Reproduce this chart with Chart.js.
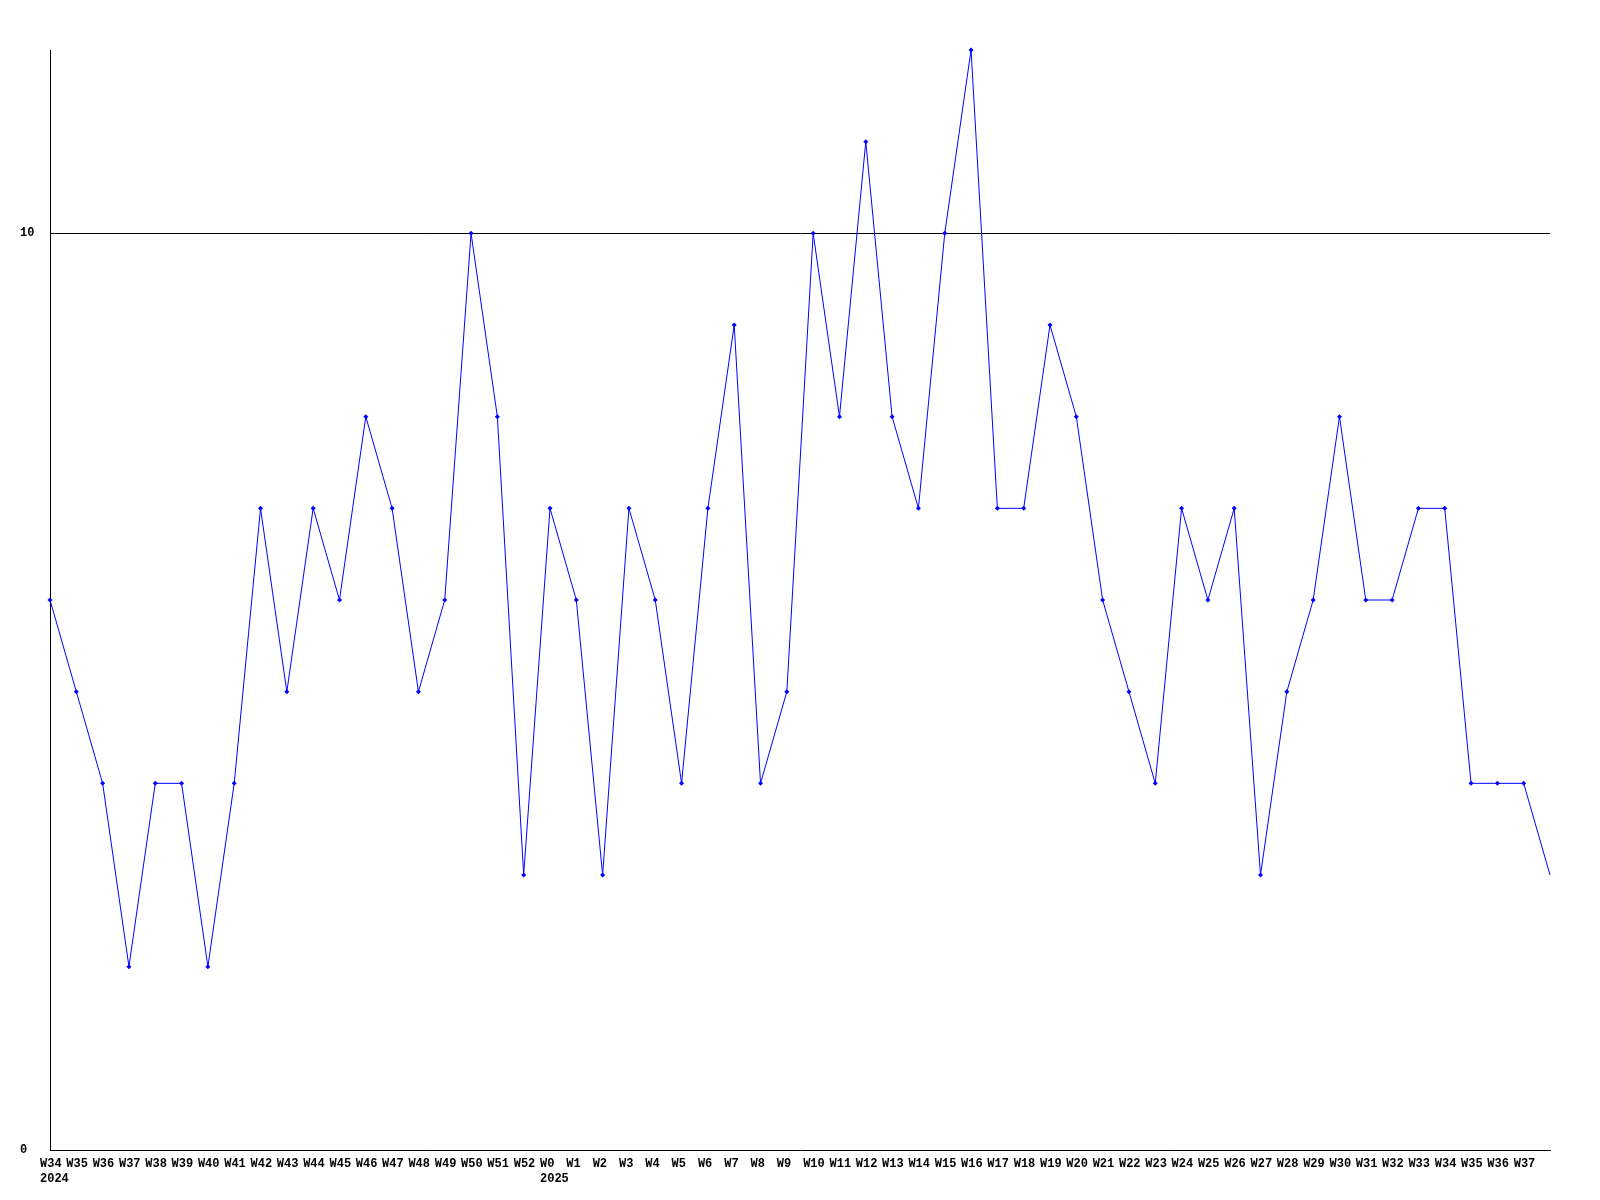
<!DOCTYPE html>
<html>
<head>
<meta charset="utf-8">
<script src="https://cdn.jsdelivr.net/npm/chart.js@4/dist/chart.umd.min.js"></script>
<style>
  html, body { margin: 0; padding: 0; background: #ffffff; }
  #wrap { width: 1600px; height: 1200px; position: relative; }
</style>
</head>
<body>
<div id="wrap"><canvas id="c" width="1600" height="1200"></canvas></div>
<script>
const weekLabels = ['W34','W35','W36','W37','W38','W39','W40','W41','W42','W43','W44','W45','W46','W47','W48','W49','W50','W51','W52',
  'W0','W1','W2','W3','W4','W5','W6','W7','W8','W9','W10','W11','W12','W13','W14','W15','W16','W17','W18','W19','W20',
  'W21','W22','W23','W24','W25','W26','W27','W28','W29','W30','W31','W32','W33','W34','W35','W36','W37',''];
const yearMarks = { 0: '2024', 19: '2025' };
const values = [6,5,4,2,4,4,2,4,7,5,7,6,8,7,5,6,10,8,3,
  7,6,3,7,6,4,7,9,4,5,10,8,11,8,7,10,12,7,7,9,8,6,5,4,7,6,7,3,5,6,8,6,6,7,7,4,4,4,3];
const yTicks = [0, 10];
const yMax = 12;

const labels = weekLabels.map((w, i) => yearMarks[i] ? [w, yearMarks[i]] : w);
const pointRadii = values.map((v, i) => i === values.length - 1 ? 0 : 2.5);

const font = { family: '"Liberation Mono", "DejaVu Sans Mono", monospace', size: 12, weight: 'bold', lineHeight: 1.25 };

new Chart(document.getElementById('c'), {
  type: 'line',
  data: {
    labels: labels,
    datasets: [{
      data: values,
      borderColor: '#0000ff',
      backgroundColor: '#0000ff',
      borderWidth: 1,
      tension: 0,
      pointStyle: 'rectRot',
      pointRadius: pointRadii,
      pointBorderWidth: 0,
      pointBackgroundColor: '#0000ff',
      clip: false
    }]
  },
  options: {
    responsive: false,
    animation: false,
    devicePixelRatio: 1,
    layout: { padding: { left: 20, top: 50, right: 50, bottom: 0 } },
    plugins: { legend: { display: false }, tooltip: { enabled: false } },
    scales: {
      x: {
        type: 'category',
        offset: false,
        grid: { display: false, drawTicks: false },
        border: { display: true, color: '#000000', width: 1 },
        ticks: {
          autoSkip: false,
          maxRotation: 0,
          minRotation: 0,
          align: 'start',
          labelOffset: -10,
          padding: 6,
          color: '#000000',
          font: font
        },
        afterFit(scale) { scale.height = 50; }
      },
      y: {
        type: 'linear',
        min: 0,
        max: yMax,
        afterBuildTicks(scale) { scale.ticks = yTicks.map(v => ({ value: v })); },
        grid: {
          drawTicks: false,
          color: ctx => (ctx.tick && ctx.tick.value === 10) ? '#000000' : 'rgba(0,0,0,0)',
          lineWidth: 1
        },
        border: { display: true, color: '#000000', width: 1 },
        ticks: {
          crossAlign: 'far',
          padding: 0,
          color: '#000000',
          font: font
        },
        afterFit(scale) { scale.width = 30; }
      }
    }
  }
});
</script>
</body>
</html>
